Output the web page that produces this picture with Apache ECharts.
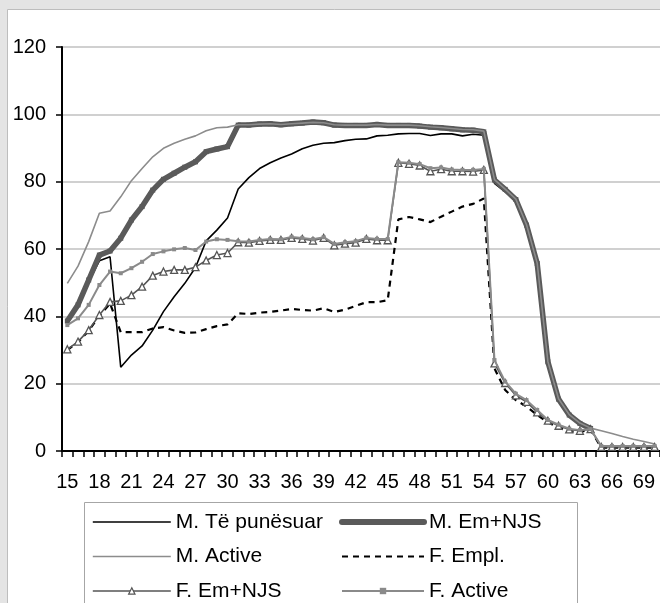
<!DOCTYPE html>
<html>
<head>
<meta charset="utf-8">
<script src="https://cdn.jsdelivr.net/npm/echarts@6/dist/echarts.min.js"></script>
<style>
html,body{margin:0;padding:0;background:#e4e4e4;}
#c{width:660px;height:603px;}
</style>
</head>
<body>
<div id="c"></div>
<script>
var ages = [];
for (var a = 15; a <= 70; a++) ages.push(String(a));

var yTicks = [0, 20, 40, 60, 80, 100, 120];

var mEmpl = [38.3,43.0,50.3,56.5,57.7,24.9,28.5,31.2,35.9,41.4,45.8,49.8,54.5,62.4,65.6,69.2,77.8,81.2,83.9,85.6,87.0,88.2,89.8,90.8,91.4,91.6,92.2,92.6,92.7,93.6,93.8,94.2,94.3,94.3,93.7,94.2,94.2,93.6,94.1,93.8,79.5,77.0,74.0,66.5,55.0,26.0,15.0,10.5,8.0,6.5,null,null,null,null,null,null];
var mEmNjs = [38.6,43.4,50.8,58.2,59.4,63.2,68.6,72.6,77.5,80.7,82.5,84.3,85.9,88.9,89.7,90.4,96.8,96.8,97.1,97.2,96.9,97.2,97.4,97.7,97.5,96.8,96.7,96.7,96.7,97.0,96.7,96.7,96.7,96.5,96.2,96.0,95.7,95.4,95.3,94.8,80.5,77.7,74.7,67.1,55.7,26.5,15.4,10.7,8.2,6.7,null,null,null,null,null,null];
var mActive = [49.8,54.9,62.2,70.6,71.3,75.5,80.3,83.9,87.4,89.9,91.4,92.6,93.6,95.1,96.0,96.2,96.9,96.9,97.1,97.2,97.0,97.2,97.4,97.6,97.5,96.9,96.8,96.8,96.8,97.0,96.8,96.8,96.8,96.6,96.3,96.1,95.8,95.5,95.4,95.0,80.6,77.8,74.8,67.2,55.8,26.6,15.5,10.8,8.3,6.8,6.0,5.2,4.3,3.5,2.8,2.1];
var fEmpl = [30.0,32.3,35.7,40.2,43.8,35.3,35.3,35.3,36.4,36.8,35.8,35.1,35.2,36.2,37.1,37.6,40.9,40.7,41.1,41.3,41.7,42.2,41.9,41.7,42.4,41.3,42.0,43.1,44.2,44.2,44.8,68.8,69.5,68.8,68.0,69.6,71.1,72.6,73.4,75.0,24.5,18.1,15.1,13.2,10.7,8.5,7.0,5.8,5.7,6.3,1.0,1.0,1.0,1.0,1.0,1.0];
var fEmNjs = [30.2,32.5,35.9,40.4,44.3,44.6,46.3,48.8,52.1,53.3,53.8,53.8,54.6,56.6,58.2,58.8,62.0,61.9,62.4,62.7,62.7,63.3,63.0,62.5,63.3,61.1,61.6,61.9,63.0,62.6,62.6,85.6,85.3,84.8,83.1,83.7,83.1,83.1,83.0,83.5,26.0,20.2,16.5,14.6,11.5,9.0,7.5,6.4,6.0,6.5,1.2,1.2,1.2,1.2,1.2,1.2];
var fActive = [37.4,39.4,43.4,49.3,53.3,52.8,54.3,56.2,58.5,59.3,59.9,60.3,59.7,62.2,62.9,62.7,62.3,62.2,62.7,63.0,62.9,63.6,63.3,62.9,63.5,61.5,62.0,62.3,63.3,63.0,63.0,85.8,85.6,85.2,84.0,84.2,83.6,83.5,83.5,83.8,27.0,20.6,17.0,15.1,12.2,9.2,7.8,6.6,6.2,6.5,1.5,1.5,1.5,1.5,1.5,1.5];

var names = ['M. Të punësuar','M. Em+NJS','M. Active','F. Empl.','F. Em+NJS','F. Active'];

var chart = echarts.init(document.getElementById('c'), null, {renderer:'canvas'});
var font = 'Liberation Sans, Arial, sans-serif';
var legendText = {fontFamily: font, fontSize: 21, color: '#000', lineHeight: 22};
var hidden = {opacity: 0, color: 'transparent', borderWidth: 0};

chart.setOption({
  backgroundColor: '#e4e4e4',
  animation: false,
  graphic: [
    {type:'rect', shape:{x:7.5,y:9.5,width:700,height:700}, style:{fill:'#ffffff', stroke:'#bdbdbd', lineWidth:1}, z:-10},
    {type:'rect', shape:{x:84.5,y:502.5,width:493,height:130}, style:{fill:'#ffffff', stroke:'#a6a6a6', lineWidth:1}, z:-5}
  ],
  grid: {left: 62, top: 47, width: 601, height: 404, containLabel: false},
  xAxis: {
    type: 'category',
    data: ages,
    boundaryGap: true,
    axisLine: {show: true, lineStyle: {color: '#000', width: 2}},
    axisTick: {show: true, interval: 0, length: 6, inside: false, lineStyle: {color: '#000', width: 1.5}},
    axisLabel: {interval: 2, fontFamily: font, fontSize: 20, color: '#000', margin: 21},
    splitLine: {show: false}
  },
  yAxis: {
    type: 'value',
    min: yTicks[0], max: yTicks[yTicks.length-1], interval: 20,
    axisLine: {show: true, lineStyle: {color: '#000', width: 2}},
    axisTick: {show: true, length: 6, lineStyle: {color: '#000', width: 1.5}},
    axisLabel: {fontFamily: font, fontSize: 20, color: '#000', margin: 16},
    splitLine: {show: true, lineStyle: {color: '#c0c0c0', width: 1.5}}
  },
  legend: [
    {left: 92, top: 511, orient: 'vertical', itemGap: 12.5, itemWidth: 78, itemHeight: 8, padding: 0,
     data: [
       {name: names[0], itemStyle: hidden, lineStyle: {width: 1.6, color: '#000'}},
       {name: names[2], itemStyle: hidden, lineStyle: {width: 1.6, color: '#8c8c8c'}},
       {name: names[4], itemStyle: {color: '#fff', borderColor: '#555', borderWidth: 1.2}, lineStyle: {width: 1.6, color: '#555'}}
     ], textStyle: legendText, selectedMode: false},
    {left: 339, top: 511, orient: 'vertical', itemGap: 12.5, itemWidth: 82, itemHeight: 8, padding: 0,
     data: [
       {name: names[1], itemStyle: hidden, lineStyle: {width: 6, color: '#5a5a5a', cap: 'round'}},
       {name: names[3], itemStyle: hidden, lineStyle: {width: 2.2, color: '#000', type: [6, 5]}},
       {name: names[5], itemStyle: {color: '#8a8a8a'}, lineStyle: {width: 2, color: '#8a8a8a'}}
     ], textStyle: legendText, selectedMode: false}
  ],
  series: [
    {name: names[0], type: 'line', data: mEmpl, symbol: 'none',
     lineStyle: {color: '#000', width: 1.6}, itemStyle: {color: '#000'}, z: 2},
    {name: names[1], type: 'line', data: mEmNjs, symbol: 'rect', symbolSize: 5,
     lineStyle: {color: '#5a5a5a', width: 5.5}, itemStyle: {color: '#5a5a5a'}, z: 3},
    {name: names[2], type: 'line', data: mActive, symbol: 'none',
     lineStyle: {color: '#8c8c8c', width: 1.6}, itemStyle: {color: '#8c8c8c'}, z: 4},
    {name: names[3], type: 'line', data: fEmpl, symbol: 'none',
     lineStyle: {color: '#000', width: 2.2, type: [6, 5]}, itemStyle: {color: '#000'}, z: 5},
    {name: names[4], type: 'line', data: fEmNjs, symbol: 'triangle', symbolSize: 7,
     lineStyle: {color: '#555', width: 1.6}, itemStyle: {color: '#fff', borderColor: '#555', borderWidth: 1.3}, z: 6},
    {name: names[5], type: 'line', data: fActive, symbol: 'rect', symbolSize: 4,
     lineStyle: {color: '#8a8a8a', width: 2}, itemStyle: {color: '#8a8a8a'}, z: 7}
  ]
});
</script>
</body>
</html>
